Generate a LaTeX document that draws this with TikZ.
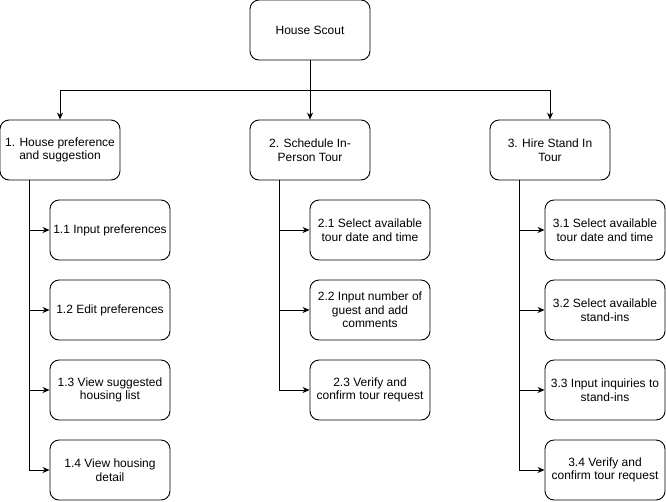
\documentclass[tikz,border=0pt]{standalone}
\usepackage{fontspec}
\setmainfont{Liberation Sans}
\usetikzlibrary{arrows.meta}

\begin{document}
\begin{tikzpicture}[x=1pt,y=-1pt,
    task/.style={draw,rounded corners=9pt,line width=0.9pt,minimum width=120pt,
      minimum height=60pt,inner sep=0pt,align=center,
      font=\fontsize{12}{13.5}\selectfont},
    arr/.style={line width=0.9pt,-{Stealth[length=7pt,width=6pt]}}]
    \useasboundingbox (0,0) rectangle (666,501);
    % Root
    \node[task] (root) at (310,30) {House Scout};
    % Main functions
    \node[task] (p1) at (60,150) {1. House preference\\and suggestion};
    \node[task] (p2) at (310,150) {2. Schedule In-\\Person Tour};
    \node[task] (p3) at (550,150) {3. Hire Stand In\\Tour};
    % Sub functions of 1
    \node[task] (p11) at (110,230) {1.1 Input preferences};
    \node[task] (p12) at (110,310) {1.2 Edit preferences};
    \node[task] (p13) at (110,390) {1.3 View suggested\\housing list};
    \node[task] (p14) at (110,470) {1.4 View housing\\detail};
    % Sub functions of 2
    \node[task] (p21) at (370,230) {2.1 Select available\\tour date and time};
    \node[task] (p22) at (370,310) {2.2 Input number of\\guest and add\\comments};
    \node[task] (p23) at (370,390) {2.3 Verify and\\confirm tour request};
    % Sub functions of 3
    \node[task] (p31) at (605,230) {3.1 Select available\\tour date and time};
    \node[task] (p32) at (605,310) {3.2 Select available\\stand-ins};
    \node[task] (p33) at (605,390) {3.3 Input inquiries to\\stand-ins};
    \node[task] (p34) at (605,470) {3.4 Verify and\\confirm tour request};
    % Root to main functions
    \coordinate (split) at (310,90);
    \draw[arr] (root) -- (p2);
    \draw[arr] (root.south) -- (split) -| (p1.north);
    \draw[arr] (root.south) -- (split) -| (p3.north);
    % Main functions to sub functions
    \foreach \c in {p11,p12,p13,p14} {
      \draw[arr] ([xshift=30pt]p1.south west) |- (\c.west);
    }
    \foreach \c in {p21,p22,p23} {
      \draw[arr] ([xshift=30pt]p2.south west) |- (\c.west);
    }
    \foreach \c in {p31,p32,p33,p34} {
      \draw[arr] ([xshift=30pt]p3.south west) |- (\c.west);
    }
\end{tikzpicture}
\end{document}
